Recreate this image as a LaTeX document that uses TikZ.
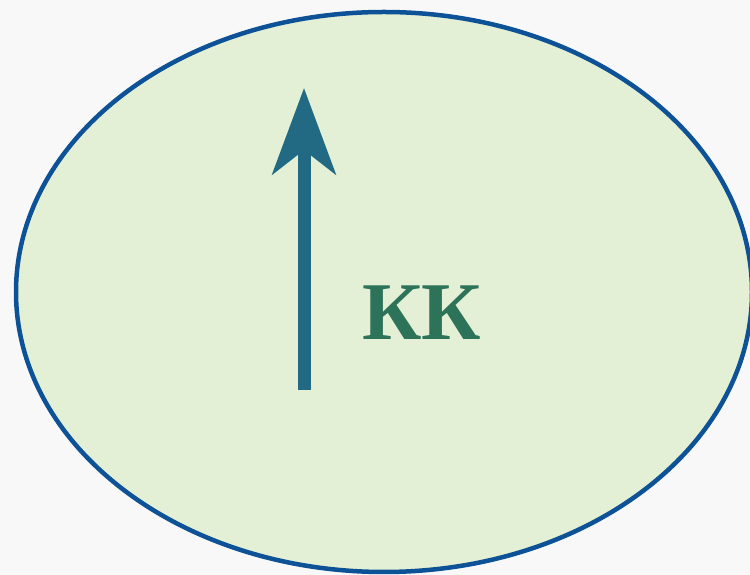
\documentclass[tikz,border=0pt]{standalone}
\usepackage{fontspec}
\setmainfont{Liberation Serif}
\usetikzlibrary{arrows.meta,shapes.geometric}
\definecolor{bgc}{HTML}{F8F8F8}
\definecolor{ellfill}{HTML}{E3F0D5}
\definecolor{elldraw}{HTML}{0D5296}
\definecolor{arrowc}{HTML}{226A84}
\definecolor{textc}{HTML}{2C735A}
\tikzset{
  field/.style={ellipse, draw=elldraw, fill=ellfill, line width=4.5pt, minimum width=736pt, minimum height=560pt, inner sep=0pt},
  vecarrow/.style={draw=arrowc, line width=13pt, -{Stealth[length=86pt,width=63pt,inset=24pt]}},
  lbl/.style={text=textc, font=\fontsize{82}{82}\selectfont\bfseries, inner sep=0pt}
}
\begin{document}
\begin{tikzpicture}[x=1pt,y=1pt]
\useasboundingbox (0,0) rectangle (750,575);
\fill[bgc] (0,0) rectangle (750,575);
\node[field] (e) at (384,283) {};
\coordinate (a0) at (304,185);
\coordinate (a1) at (304,487);
\draw[vecarrow] (a0) -- (a1);
\node[lbl, anchor=base] (k) at (422,235) {КК};
\end{tikzpicture}
\end{document}
